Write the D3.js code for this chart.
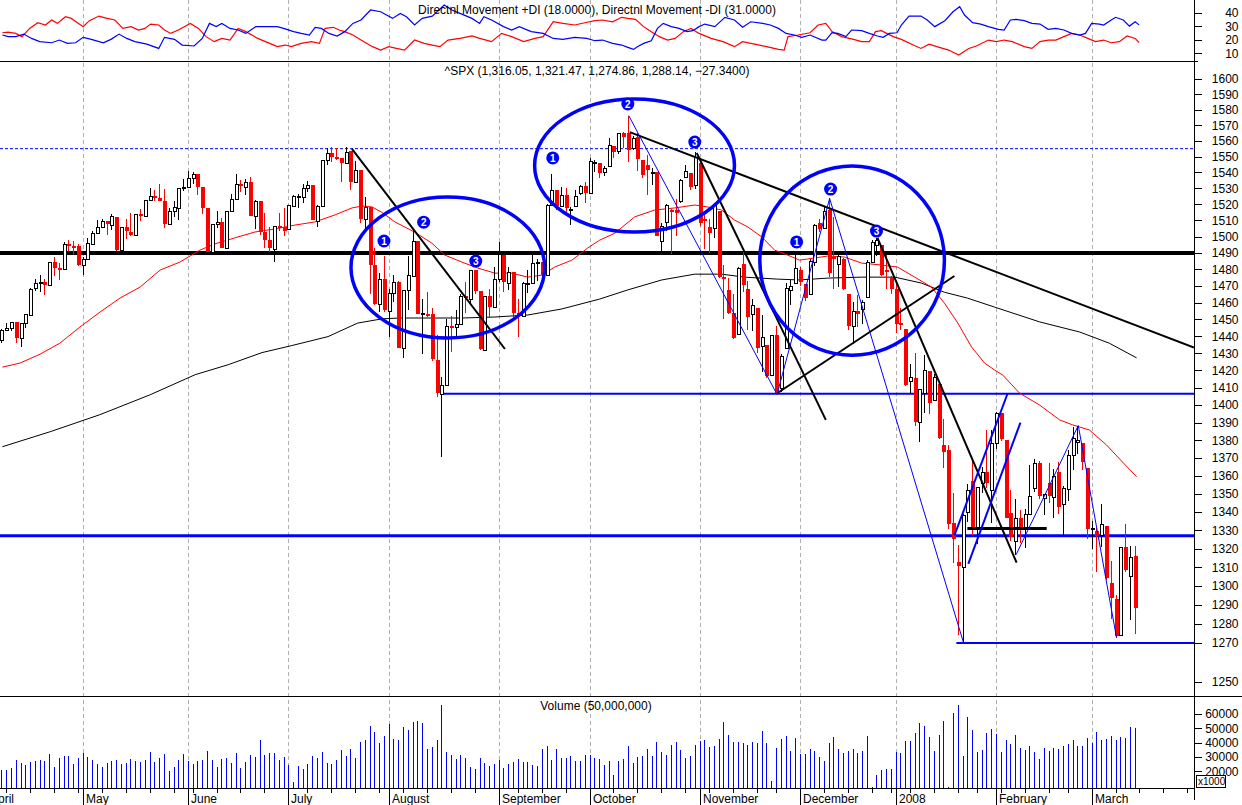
<!DOCTYPE html>
<html><head><meta charset="utf-8"><title>^SPX daily</title>
<script src="https://cdn.jsdelivr.net/npm/d3@7/dist/d3.min.js"></script>
<style>
html,body{margin:0;padding:0;background:#fff;}
svg{display:block;}
text{font-family:"Liberation Sans",Arial,Helvetica,sans-serif;font-size:12px;fill:#000;}
</style></head><body>
<svg id="chart" width="1242" height="805"></svg>
<script>
// ---- daily S&P 500 bars, 5 Apr 2007 .. 14 Mar 2008 (one entry per trading day) ----
const opens = [
1438,1443.8,1444.6,1448.2,1438.9,1447.8,1452.8,1468.5,1471.5,1472.5,1470.7,1484.3,1480.9,1480.4,1495.3,1494.2,1494.1,
1482.4,1486.1,1495.6,1502.4,1505.6,1509.4,1507.3,1512.3,1491.5,1505.8,1503.1,1500.8,1514,1512.7,1522.8,1525.1,1524.1,1522.1,1507.5,1515.6,1517.6,1530.2,
1530.6,1536.3,1539.1,1530.6,1517.4,1490.7,1507.6,1509.1,1492.7,1515.6,1523,1532.9,1531,1533.7,1512.5,1522.2,1502.6,1497.7,1492.3,1506.3,1505.7,
1504.7,1519.1,1524.9,1524.8,1530.4,1531.9,1509.9,1518.7,1547.7,1552.5,1549.5,1549.2,1546.1,1553.2,1534.1,1541.6,1511,1518,1482.4,1458.9,1473.9,
1455.2,1465.5,1472.2,1433,1467.6,1476.2,1497.2,1453.1,1453.4,1452.9,1426.2,1406.6,1411.3,1445.9,1445.6,1447,1464.1,1462.3,1479.4,1466.7,1432,1463.7,1457.6,
1473.96,1488.8,1472,1478.6,1453.5,1451.7,1471.1,1471.5,1483.9,1484.2,1476.6,1519.8,1528.7,1518.8,1525.8,1516.3,1518.6,1527.3,1531.2,
1527.3,1546.5,1545.8,1539.9,1543.8,1556.5,1553.2,1564.98,1564.7,1555.4,1562.3,1547.8,1544.4,1539.3,1540,1497.2,1509,1516.6,1516.2,1522.2,1536.9,1539.4,1532.2,
1545.8,1511.1,1505.6,1505.3,1515.5,1475.3,1467.6,1453.7,1441.4,1483.4,1468,1453.1,1456.7,1434.5,1434.7,1417.6,1440.7,1409.6,1432.95,1467.4,1471.8,
1479.6,1471.3,1465.2,1484.6,1508.6,1505.1,1516.7,1487.6,1483.3,1486.2,1465.1,1445.9,1454.7,1456.4,1463.2,1484.6,1495.1,1495.1,1479.8,1475.3,
1467.97,1447.6,1444,1414.1,1415.7,1390.3,1406.8,1419.9,1402.9,1411.9,1377.4,1374.6,1333.9,1312.9,1310.4,1340.1,1357.3,1330.7,1355.9,1362.2,1351.98,
1378.6,1395.4,1380.3,1339.5,1324,1336.9,1331.9,1339.1,1353.1,1367.3,1347.5,1355.9,1348.4,1362.2,1344.2,1352.8,1371.8,1378.95,1378.2,1364.1,
1330.5,1329.6,1327.7,1332.2,1301.5,1293.2,1274.4,1321.1,1305.3,1316.05];
const highs = [
1444,1448.1,1448.7,1448.7,1448,1453.1,1468.6,1474.4,1476.6,1474.2,1484.7,1487.3,1483.8,1496.6,1498,1497.3,1495.7,
1487.3,1499.1,1503.3,1510.3,1511,1509.4,1513.8,1512.3,1506.2,1510.9,1514.8,1514.2,1517.1,1522.8,1529.9,1529.2,1532.4,1529.3,1517.4,1521.8,1530.2,1535.6,
1540.6,1540.5,1539.1,1530.6,1517.4,1507.8,1515.5,1511.3,1515.7,1526.5,1538.7,1535.4,1535.9,1537.3,1522.9,1522.2,1514.3,1506.1,1506.8,1514.8,1517.5,
1519.4,1526,1526.6,1532.4,1534.3,1531.9,1519.3,1547.9,1555.1,1555.9,1555.3,1549.2,1555.9,1553.2,1547.2,1541.6,1524.3,1518,1492.9,1477.9,1488.3,
1468.4,1476.4,1473.2,1467.7,1488.3,1503.9,1497.2,1462,1466.3,1456.7,1440.8,1415.9,1450.3,1451.8,1455.3,1464.9,1472.1,1479.4,1479.4,1466.7,1463.8,1468.4,1481.5,
1496.4,1488.8,1481.5,1478.6,1462.3,1472.5,1479.5,1489.6,1486,1484.2,1519.9,1538.7,1529.1,1530.9,1530.2,1518.3,1529,1532,1533.7,
1549,1548,1545.8,1544,1561.9,1556.5,1565.3,1565.4,1576.1,1563,1564.7,1547.8,1550.7,1542.8,1540,1508.1,1520,1517.2,1523.2,1535.5,1544.7,1539.4,1552.8,
1545.8,1513.2,1510.8,1520.8,1515.5,1482.5,1474.8,1464.9,1481.4,1492.1,1472.7,1462.2,1456.7,1452.6,1434.7,1440.9,1446.1,1429.5,1471.6,1473.8,1488.9,
1481.2,1471.3,1486.1,1508,1510.6,1518.3,1523.6,1512,1489.4,1486.7,1465.1,1460.2,1464.4,1461.5,1485.4,1497.6,1498.9,1495.1,1488.5,1475.8,
1471.8,1456.8,1444,1423.9,1430.3,1409.2,1429.1,1419.9,1417.9,1411.9,1392,1377.2,1350.3,1322.1,1339.1,1355.2,1368.6,1354,1364.9,1385.9,1385.6,
1396,1395.4,1380.3,1352,1347.2,1341.2,1341.4,1366.1,1369.2,1368.2,1350,1367.3,1363.7,1367.9,1354.3,1374.4,1387.3,1388.3,1378.2,1364.1,
1335.1,1331,1344.2,1332.2,1313.2,1295,1320.7,1333.3,1321.7,1321.47];
const lows = [
1436,1443.3,1443,1436.2,1433.9,1444.6,1452.8,1467.2,1466.4,1464.5,1470.7,1476.2,1473.7,1480.4,1491.4,1488.7,1482.3,
1476.7,1486.1,1495.6,1501.8,1505.5,1500.7,1503.8,1491.4,1491.5,1498.3,1500.4,1500.8,1509.3,1512.7,1522.7,1522,1521.8,1505.2,1507.5,1512,1510.1,1528.3,
1530.6,1532.6,1525.6,1514.1,1490.4,1490.7,1505.3,1492.9,1492.7,1515.6,1523,1527.5,1525.7,1512.4,1504.8,1500.7,1492.7,1490.5,1484.2,1503.4,1500.2,
1504.7,1519.1,1517.7,1520.5,1527.5,1510,1506.1,1518.7,1544.9,1546.7,1547.5,1533.7,1546.1,1529.2,1534.1,1508.6,1503.7,1465.3,1458.8,1454.3,1454.3,
1439.6,1460.6,1432.8,1427.4,1455.8,1476.2,1453.1,1429.7,1451.5,1425.5,1404.4,1370.6,1411.3,1430.5,1439.8,1447,1453.9,1460,1465,1432,1432,1451.3,1457.6,
1472.2,1466.3,1467.4,1449.1,1439.3,1451.7,1465.8,1471.5,1473.2,1471.8,1476.6,1519.8,1516.4,1518.8,1515.1,1507.1,1518.6,1525.8,1521,
1527.3,1540.1,1536.3,1537.6,1543.8,1549,1551.8,1555.5,1546.7,1554.1,1540.8,1536.3,1526,1531.8,1500.3,1490.4,1503.6,1489.6,1500.5,1520.7,1536.9,1529.2,1529.4,
1506.7,1492.5,1489.9,1499.1,1475,1450.3,1453.4,1438.5,1441.4,1466.5,1443.5,1443,1430.4,1419.3,1415.6,1417.6,1406.1,1407.4,1432.95,1458.4,1470.9,
1470.1,1460.7,1465.2,1482.2,1502.7,1504.5,1475.6,1468.2,1469.2,1467.8,1443.8,1435.7,1445.3,1447.5,1463.2,1484.6,1488.2,1475.9,1468,1465.1,
1442.1,1443.7,1411.2,1406.7,1388.3,1378.7,1395.3,1394.8,1402.9,1380.6,1364.3,1330.7,1312.5,1274.3,1270.1,1334.3,1327.5,1322.3,1350.3,1353,1334.1,
1375.3,1379.7,1336.6,1324.3,1316.8,1323.2,1320.3,1339.1,1350.8,1347.3,1338.1,1345.1,1336.6,1339.1,1327,1346,1363.3,1372,1363.2,1325.4,
1320,1307.4,1320.7,1303.4,1282.4,1272.7,1274.4,1307.6,1282.1,1274.86];
const closes = [
1443.8,1444.6,1448.4,1438.9,1447.8,1452.9,1468.3,1471.5,1472.5,1470.7,1484.4,1480.9,1480.4,1495.4,1494.3,1494.1,1482.4,
1486.3,1495.9,1502.4,1505.6,1509.5,1507.7,1512.6,1491.5,1505.9,1503.2,1501.2,1514.1,1512.8,1522.8,1525.1,1524.1,1522.3,1507.5,1515.7,1518.1,1530.2,1530.6,
1536.3,1539.2,1531,1517.4,1490.7,1507.7,1509.1,1493,1515.7,1523,1532.9,1531.1,1533.7,1512.8,1522.2,1502.6,1497.7,1492.9,1506.3,1505.7,1503.4,
1519.4,1524.9,1525.4,1530.4,1531.9,1510.1,1518.8,1547.7,1552.5,1549.5,1549.4,1546.2,1553.1,1534.1,1541.6,1511,1518.1,1482.7,1459,1473.9,1455.3,
1465.8,1472.2,1433.1,1467.7,1476.7,1497.5,1453.1,1453.6,1452.9,1426.5,1406.7,1411.3,1445.9,1445.6,1447.1,1464.1,1462.5,1479.4,1466.8,1432.4,1463.8,1457.6,1474,
1489.4,1472.3,1478.6,1453.6,1451.7,1471.5,1471.6,1484,1484.3,1476.7,1519.8,1529,1518.8,1525.8,1517.7,1517.2,1525.4,1531.4,1526.8,
1547,1546.6,1539.6,1542.8,1557.6,1552.6,1565.2,1562.5,1554.4,1561.8,1548.7,1538.5,1541.2,1540.1,1500.6,1506.3,1519.6,1515.9,1514.4,1535.3,1541,1531,1549.4,
1508.4,1509.7,1502.2,1520.3,1475.6,1474.8,1453.7,1439.2,1481.1,1470.6,1451.2,1458.7,1433.3,1439.7,1416.8,1440.7,1407.2,1428.2,1469,1469.7,1481.1,
1472.4,1462.8,1485,1507.3,1504.7,1516,1477.7,1486.6,1488.4,1468,1445.9,1455,1453,1460.1,1484.5,1496.5,1497.7,1476.3,1478.5,1468.4,
1447.2,1447.2,1411.6,1416.2,1390.2,1409.1,1420.3,1401,1416.3,1381,1373.2,1333.3,1325.2,1310.5,1338.6,1352.1,1330.6,1354,1362.3,1355.8,1378.6,
1395.4,1380.8,1336.6,1326.5,1336.9,1331.3,1339.1,1348.9,1367.2,1348.9,1350,1348.8,1360,1342.5,1353.1,1371.8,1381.3,1380,1367.7,1330.6,
1331.3,1326.8,1333.7,1304.3,1293.4,1273.4,1320.7,1308.8,1315.48,1288.14];
// daily volume, thousands (axis units x1000)
const volumes = [
20900,20900,22500,27900,26000,24400,26700,27200,27900,27200,32100,23000,29300,30700,30700,25100,29300,
32800,30000,27900,25100,23000,25800,27200,27900,25100,25800,28600,27200,26500,27900,33500,26500,29300,32100,20200,23000,27900,32100,
27200,25100,27200,27900,34200,27900,23000,28600,29300,25800,32800,22300,26500,31400,30000,41900,31400,32800,32800,27900,30000,
24400,12500,23700,21600,25100,30700,29300,33500,25800,25100,27900,34900,30700,35600,29300,40500,41900,51700,47500,39800,44700,
53100,42600,41900,51000,48900,54500,55200,53800,35600,37000,41900,66300,33500,31400,28600,31400,29300,23000,21600,29300,25800,23700,25100,
27900,22300,25100,26500,28600,26500,26500,24400,23700,35600,37700,27900,35600,29300,29300,30700,27200,27200,31400,
31400,29300,28600,24400,27200,17400,27400,28400,37700,25800,30000,30700,35600,30700,40500,33500,31400,38400,40500,34900,29300,30700,38400,
41400,41900,37000,37700,42600,54500,45400,40500,40500,39800,38400,40500,39800,48200,39800,13500,36300,42600,44700,34200,43300,
32100,32100,35600,34200,30000,27200,39800,44000,35600,32800,34200,35600,32800,34200,44700,9300,17400,20900,21600,21600,
33500,32800,41200,41200,46800,53800,51700,44000,34200,45400,55200,9300,60800,66300,30700,58000,48900,33500,34900,46800,49600,
46100,33500,41900,39100,45400,36300,34900,37700,33500,28600,36300,34200,36300,35600,37700,39100,41900,37700,37700,43300,
40000,47500,41900,42600,44700,41900,44000,43300,51000,50000];

// Directional movement lines: [trading-day index, value]
const plusDI = [[0,25.2],[1.2,25.7],[2.8,24.7],[4.1,22.3],[5.7,28.4],[7.4,32.6],[9,30.9],[10.3,34.6],[11.5,32.1],[13.2,37],[14.4,35.8],[15.7,32.6],[16.9,29.7],[18.2,34.1],[20.2,37.5],[21.9,35.8],[23.5,34.6],[25.2,28.4],[26.9,29.7],[28.5,27.2],[29.8,28.4],[31,31.6],[32.7,30.9],[33.9,27.2],[35.2,24.7],[36.8,27.2],[39.3,32.1],[41,28.4],[42.6,22.3],[44.3,18.6],[45.9,21],[47.6,19.8],[49.3,28.4],[50.9,26],[53.4,21],[55.9,17.3],[57.5,14.9],[59.2,16.1],[60.4,14.9],[62.5,17.3],[64.6,18.6],[66.3,17.3],[67.5,28.4],[69.2,29.2],[70.4,27.2],[71.6,26],[73.3,23.5],[75,19.8],[77.4,14.9],[79.1,12.4],[80.8,14.9],[82.4,13.6],[84.1,12.4],[86.2,19.8],[88.2,17.3],[89.9,16.1],[91.5,14.9],[93.2,19.8],[95.7,21],[98.2,22.8],[99.8,21],[102.3,18.6],[104.4,24.7],[106.5,22.3],[109,18.6],[111.4,21],[113.1,22.3],[115.2,33.3],[117.2,32.1],[119.7,30.9],[121.8,32.6],[123.9,34.1],[125.5,34.6],[127.6,33.3],[129.5,36.6],[130.8,35.8],[132.4,35.1],[134.1,29.7],[135.7,26],[137.4,22.3],[139.1,19.8],[140.7,21],[142.4,26],[144,28.4],[145.7,24.7],[148.2,21],[150.7,18.6],[153.1,14.9],[154.8,18.6],[157.3,16.8],[159.8,14.9],[162.3,12.9],[163.5,12.4],[164.3,22.3],[166.4,23.5],[168.9,25.2],[170.6,30.9],[172.2,32.1],[173.5,26],[175.5,22.3],[178,20.3],[179.7,18.6],[181.3,18.6],[182.6,26],[183.8,26.7],[186.3,22.3],[188,20.3],[190.5,16.1],[192.1,13.6],[193.8,16.8],[195.4,14.9],[197.9,12.4],[200,8.7],[202.1,13.6],[203.7,15.4],[206.2,19.8],[207.9,18.6],[209.5,19.8],[211.2,18.6],[213.7,14.9],[215.3,13.6],[217,18.6],[218.7,19.8],[220.3,19.8],[222,22.3],[223.6,24.7],[225.3,23.5],[227,21],[228.6,18.6],[230.3,19.8],[231.9,17.8],[233.6,18.6],[235.2,22.8],[236.9,21],[237.7,18]];
const minusDI = [[0,23.5],[1.2,22.3],[2.8,22.3],[4.5,24.2],[6.1,21],[7.8,18.6],[10.3,17.8],[11.9,19.8],[13.6,17.3],[15.3,17.8],[16.9,21.8],[18.6,20.3],[21.1,17.8],[22.7,20.3],[24.4,24.2],[26,21],[27.7,18.6],[30.2,16.8],[32.7,13.6],[33.9,21.8],[36,20.3],[37.6,16.1],[40.1,15.4],[41.8,21],[43.3,32.1],[44.7,29.7],[45.9,32.1],[47.6,28.4],[49.3,27.2],[50.9,24.7],[53,29.7],[55.1,29.7],[57.5,29.7],[58.8,28.4],[60.9,26],[62.5,24.7],[64.2,23.5],[65.4,29.2],[66.7,28.4],[68.3,24.7],[70,22.8],[71.6,26],[73.3,32.1],[75,34.6],[77,42],[79.1,40.7],[81.6,35.8],[83.2,39.5],[84.5,37],[86.2,30.9],[87.8,35.8],[89.9,37.5],[92.4,45.7],[94,42],[95.7,39.5],[98.2,35.8],[99.8,32.1],[100.7,37],[102.3,34.6],[104.8,29.7],[106.5,27.2],[108.1,29.7],[110.6,26],[113.1,24.7],[115.2,21],[117.2,20.3],[119.7,21.8],[122.2,21],[123.9,19.3],[125.5,19.8],[127.6,17.3],[129.5,16.1],[130.8,14.4],[132,12.9],[132.8,14.9],[134.1,17.3],[135.7,19.3],[137,28.4],[138.2,32.1],[139.9,29.7],[141.5,28.4],[143.2,26],[144.4,26.7],[145.7,29.7],[146.9,31.6],[149,29.7],[151.1,36.6],[153.1,34.6],[154.8,29.2],[156.5,33.3],[159,32.1],[160.6,30.9],[162.3,28.4],[163.9,24.7],[165.6,23.5],[167.2,21.8],[168.9,23.5],[171.4,19.8],[172.2,19.8],[173.5,25.2],[174.7,24.7],[176.4,22.3],[177.6,27.2],[179.7,26.7],[181.3,24.7],[183,22.8],[184.2,21.8],[185.5,24.7],[187.1,25.2],[188,30.9],[189.6,37.5],[192.1,37.5],[193.4,34.6],[195,29.7],[197.1,34.1],[198.8,40.7],[200.2,44.4],[201.2,38.3],[202.9,32.6],[204.6,31.6],[206.2,29.7],[208.3,27.7],[209.5,27.2],[210.8,34.6],[212,35.1],[213.7,34.1],[215.3,32.1],[217,31.6],[218.7,27.7],[220.3,28.4],[222,27.2],[223.6,24.7],[225.3,23.5],[226.5,24.7],[227.8,32.1],[229.4,31.6],[230.3,30.9],[231.9,34.6],[232.8,36.6],[234.4,34.6],[235.7,30.1],[236.9,33.3],[237.7,31]];

// moving averages: [trading-day index, price]
const maShort = [[0,1421.9],[3.7,1424.3],[7.9,1429.5],[12,1435.9],[16.2,1445.4],[20.4,1454.3],[24.6,1462.7],[28.8,1469.3],[33,1479.6],[37.1,1484.4],[41.3,1491.7],[44.4,1495.5],[48.6,1499.2],[52.8,1502.8],[57,1504.7],[61.2,1507.1],[65.3,1509],[69.5,1513.3],[73.1,1517.7],[75.2,1518.9],[77.3,1518.3],[79.3,1515.1],[82.1,1509],[86.2,1502.8],[89.8,1496],[92.5,1488.7],[96.1,1484.4],[99.4,1480.8],[103,1477.7],[106.5,1477.7],[109.9,1475.3],[112.8,1476.5],[115.5,1481.4],[119.1,1485.6],[122.4,1493],[124.9,1497.8],[128.1,1502.1],[132.2,1512.1],[136.4,1516.4],[140.6,1517.7],[144.8,1519.5],[147.5,1518.3],[150.4,1516.4],[153.1,1510.2],[155.9,1505.9],[158.8,1499.8],[161.5,1491.7],[164.2,1488.7],[166.7,1485.6],[168.4,1486.3],[172.6,1488.1],[176.1,1487.5],[179.7,1483.8],[183.9,1482.6],[187.2,1481.4],[190.8,1475.3],[194.3,1469.3],[197,1459.7],[199.8,1447.8],[202.7,1433.6],[205.4,1424.3],[207.5,1420.2],[209.2,1417.3],[212.7,1406.9],[216.9,1400],[221.1,1391.5],[223.8,1388.7],[227.3,1385.8],[230.9,1377.3],[234.2,1367.8],[237.2,1359.5]];
const maLong = [[0,1376.3],[10,1384.8],[20.4,1394.5],[30.9,1405.9],[40.3,1417.5],[47.2,1423.3],[54.3,1430.4],[60.5,1434.5],[68.1,1439.8],[74.3,1447.8],[79.4,1450.3],[83.1,1450.8],[89,1450.8],[96.1,1450.8],[103,1451.4],[109.9,1452.6],[117,1456.2],[124.9,1462.1],[130.8,1467.6],[137.9,1473.6],[144.8,1477.1],[150.4,1477.1],[155.2,1475.3],[162.1,1474.1],[166.7,1473.6],[172.6,1474.7],[179.7,1475.3],[186.6,1475.3],[192.2,1471.7],[197,1466.2],[201.8,1462.7],[207.5,1457.3],[216.9,1448.5],[225.3,1442.5],[231.5,1435.9],[237.2,1427.3]];

// axis labels
const priceLabels = [1600,1590,1580,1570,1560,1550,1540,1530,1520,1510,1500,1490,1480,1470,1460,1450,1440,1430,1420,1410,1400,1390,1380,1370,1360,1350,1340,1330,1320,1310,1300,1290,1280,1270,1250];
const diLabels = [10,20,30,40];
const volLabels = [20000,30000,40000,50000,60000];
const holidays = ["2007-04-06","2007-05-28","2007-07-04","2007-09-03","2007-11-22","2007-12-25","2008-01-01","2008-01-21","2008-02-18"];

// drawn studies: price levels, trend lines, swing zigzags, circled patterns
const levelBlack = 1490;
const levelDashed = 1555;
const levelAugLow = [92, 1406.5];        // from day index, price
const levelBreak = 1327;
const levelJanLow = [199.5, 1270];
const trendLines = [
  [[73.1,1554.8],[105.1,1432.5]],
  [[131.2,1565.6],[249.2,1433.4]],
  [[145.2,1552.2],[172.2,1391.5]],
  [[162.1,1406.9],[199.1,1476.0]],
  [[183.0,1499.2],[212.1,1312.5]]
];
const shelfLine = [[201.8,1331],[218.4,1331]];
const swingA = [[131,1576.1],[162,1406.1],[173,1523.6],[201,1270.1]];
const swingB = [[212,1316.8],[225,1388.3],[233,1272.7]];
const channel = [
  [[199.1,1327.2],[210.2,1406.5]],
  [[202.0,1311.8],[212.9,1390.0]]
];
const circles = [[72.9,113.4,1524.5,1439.0],[111.3,153.1,1587.0,1502.8],[158.4,197.0,1544.0,1428.9]];
const marks = [[79.8,1497.3,"1"],[88.1,1508.9,"2"],[99.0,1485.0,"3"],[115.1,1549.1,"1"],[130.8,1583.7,"2"],[144.8,1559.2,"3"],[166.1,1496.7,"1"],[173.2,1529.5,"2"],[182.8,1503.4,"3"]];

// ---------------------------------------------------------------
const svg = d3.select("#chart");
const AX = 1194;
const DI_BOTTOM = 61, MAIN_TOP = 62, MAIN_BOTTOM = 697, VOL_BOTTOM = 788;
const RED = "#ff0000", BLUE = "#0000ff";

const x = d3.scaleLinear().domain([-0.5, 249.2]).range([0, AX]);
const yP = d3.scaleLog().domain([1600, 1270]).range([79, 643]);
const yD = d3.scaleLinear().domain([10, 40]).range([53.3, 12.7]);
const yV = d3.scaleLinear().domain([8800, 60000]).range([787.3, 714]);
const n = closes.length;
const px = i => Math.round(x(i));

// trading calendar starting Monday 2 Apr 2007 (index = k - 3)
const hol = new Set(holidays);
const fmt = d3.timeFormat("%Y-%m-%d");
const days = [];
for (let d = new Date(2007, 3, 2); days.length < 254; d = d3.timeDay.offset(d, 1)) {
  const wd = d.getDay();
  if (wd === 0 || wd === 6 || hol.has(fmt(d))) continue;
  days.push(new Date(d));
}
const cal = days.map((d, k) => ({d, i: k - 3}));
const monthStarts = cal.filter((c, k) => (k === 0 || c.d.getMonth() !== cal[k - 1].d.getMonth()) && x(c.i) < AX - 10);
const weekStarts = cal.filter((c, k) => (k === 0 || c.d.getDay() < cal[k - 1].d.getDay()) && x(c.i) < AX);

const defs = svg.append("defs");
defs.append("clipPath").attr("id", "clipDI").append("rect").attr("x", 0).attr("y", 0).attr("width", AX).attr("height", DI_BOTTOM);
defs.append("clipPath").attr("id", "clipMain").append("rect").attr("x", 0).attr("y", MAIN_TOP).attr("width", AX).attr("height", MAIN_BOTTOM - MAIN_TOP);

svg.append("rect").attr("width", 1242).attr("height", 805).attr("fill", "#fff");

// month grid
svg.append("g").selectAll("line").data(monthStarts.filter(m => m.i >= 0)).join("line")
  .attr("x1", m => px(m.i) - 0.5).attr("x2", m => px(m.i) - 0.5)
  .attr("y1", 0).attr("y2", VOL_BOTTOM)
  .attr("stroke", "#b0b0b0").attr("stroke-dasharray", "4,3").attr("stroke-width", 1);

// ---- directional movement panel ----
const gDI = svg.append("g").attr("clip-path", "url(#clipDI)");
const diLine = d3.line().x(d => x(d[0])).y(d => yD(d[1]));
gDI.append("path").datum(plusDI).attr("d", diLine).attr("fill", "none").attr("stroke", RED).attr("stroke-width", 1.2);
gDI.append("path").datum(minusDI).attr("d", diLine).attr("fill", "none").attr("stroke", BLUE).attr("stroke-width", 1.2);
const fmt4 = d3.format(".4f");
svg.append("text").attr("x", 597).attr("y", 14).attr("text-anchor", "middle")
  .text(`Directnl Movement +DI (${fmt4(plusDI[plusDI.length - 1][1])}), Directnl Movement -DI (${fmt4(minusDI[minusDI.length - 1][1])})`);

// ---- price panel ----
const gM = svg.append("g").attr("clip-path", "url(#clipMain)");
const pLine = d3.line().x(d => x(d[0])).y(d => yP(d[1]));

// levels under the bars
gM.append("line").attr("x1", 0).attr("x2", AX).attr("y1", yP(levelDashed)).attr("y2", yP(levelDashed))
  .attr("stroke", BLUE).attr("stroke-width", 1).attr("stroke-dasharray", "3,2");
gM.append("line").attr("x1", 0).attr("x2", AX).attr("y1", yP(levelBlack)).attr("y2", yP(levelBlack))
  .attr("stroke", "#000").attr("stroke-width", 4);
gM.append("line").attr("x1", x(levelAugLow[0])).attr("x2", AX).attr("y1", yP(levelAugLow[1])).attr("y2", yP(levelAugLow[1]))
  .attr("stroke", BLUE).attr("stroke-width", 2);
gM.append("line").attr("x1", 0).attr("x2", AX).attr("y1", yP(levelBreak)).attr("y2", yP(levelBreak))
  .attr("stroke", BLUE).attr("stroke-width", 3);
gM.append("line").attr("x1", x(levelJanLow[0])).attr("x2", AX).attr("y1", yP(levelJanLow[1])).attr("y2", yP(levelJanLow[1]))
  .attr("stroke", BLUE).attr("stroke-width", 2);

// moving averages
gM.append("path").datum(maLong).attr("d", pLine).attr("fill", "none").attr("stroke", "#000").attr("stroke-width", 1);
gM.append("path").datum(maShort).attr("d", pLine).attr("fill", "none").attr("stroke", RED).attr("stroke-width", 1);

// candles
const bars = d3.range(n).map(i => ({i, o: opens[i], h: highs[i], l: lows[i], c: closes[i], up: closes[i] >= opens[i]}));
const gC = gM.append("g").attr("shape-rendering", "crispEdges");
gC.selectAll("line").data(bars).join("line")
  .attr("x1", b => px(b.i) - 0.5).attr("x2", b => px(b.i) - 0.5)
  .attr("y1", b => yP(b.h)).attr("y2", b => yP(b.l))
  .attr("stroke", b => b.up ? "#000" : RED).attr("stroke-width", 1);
gC.selectAll("rect").data(bars).join("rect")
  .each(function(b) {
    const t = Math.round(yP(Math.max(b.o, b.c))), bt = Math.round(yP(Math.min(b.o, b.c)));
    const r = d3.select(this);
    if (b.up) {
      r.attr("x", px(b.i) - 1.5).attr("y", t + 0.5).attr("width", 3).attr("height", Math.max(bt - t, 1))
       .attr("fill", "#fff").attr("stroke", "#000").attr("stroke-width", 1);
    } else {
      r.attr("x", px(b.i) - 2).attr("y", t).attr("width", 4).attr("height", Math.max(bt - t, 2))
       .attr("fill", RED);
    }
  });

// studies over the bars
trendLines.forEach(seg => gM.append("path").datum(seg).attr("d", pLine).attr("fill", "none").attr("stroke", "#000").attr("stroke-width", 2));
gM.append("path").datum(shelfLine).attr("d", pLine).attr("stroke", "#000").attr("stroke-width", 3);
gM.append("path").datum(swingA).attr("d", pLine).attr("fill", "none").attr("stroke", BLUE).attr("stroke-width", 1);
gM.append("path").datum(swingB).attr("d", pLine).attr("fill", "none").attr("stroke", BLUE).attr("stroke-width", 1);
channel.forEach(seg => gM.append("path").datum(seg).attr("d", pLine).attr("fill", "none").attr("stroke", BLUE).attr("stroke-width", 2));
gM.selectAll("ellipse").data(circles).join("ellipse")
  .attr("cx", c => (x(c[0]) + x(c[1])) / 2).attr("cy", c => (yP(c[2]) + yP(c[3])) / 2)
  .attr("rx", c => (x(c[1]) - x(c[0])) / 2).attr("ry", c => (yP(c[3]) - yP(c[2])) / 2)
  .attr("fill", "none").attr("stroke", BLUE).attr("stroke-width", 3.5);
const gMk = gM.append("g").selectAll("g").data(marks).join("g")
  .attr("transform", m => `translate(${x(m[0])},${yP(m[1])})`);
gMk.append("circle").attr("r", 6.5).attr("fill", BLUE);
gMk.append("text").attr("text-anchor", "middle").attr("dy", "0.36em")
  .style("font-size", "10px").style("font-weight", "bold").style("fill", "#fff").text(m => m[2]);

const last = n - 1, f2 = d3.format(",.2f");
svg.append("text").attr("x", 597).attr("y", 75).attr("text-anchor", "middle")
  .text(`^SPX (${f2(opens[last])}, ${f2(highs[last])}, ${f2(lows[last])}, ${f2(closes[last])}, ${fmt4(closes[last] - closes[last - 1])})`);

// ---- volume panel ----
svg.append("g").attr("shape-rendering", "crispEdges").selectAll("line").data(d3.range(n)).join("line")
  .attr("x1", i => px(i) - 0.5).attr("x2", i => px(i) - 0.5)
  .attr("y1", i => yV(volumes[i])).attr("y2", VOL_BOTTOM)
  .attr("stroke", BLUE).attr("stroke-width", 1);
svg.append("text").attr("x", 596).attr("y", 710).attr("text-anchor", "middle")
  .text(`Volume (${d3.format(",")(volumes[last] * 1000)})`);

// ---- frame ----
const frame = svg.append("g").attr("shape-rendering", "crispEdges").attr("stroke", "#000").attr("stroke-width", 1);
frame.append("line").attr("x1", 0).attr("x2", AX + 4).attr("y1", DI_BOTTOM + 0.5).attr("y2", DI_BOTTOM + 0.5);
frame.append("line").attr("x1", 0).attr("x2", 1242).attr("y1", MAIN_BOTTOM - 0.5).attr("y2", MAIN_BOTTOM - 0.5);
frame.append("line").attr("x1", 0).attr("x2", AX).attr("y1", VOL_BOTTOM + 0.5).attr("y2", VOL_BOTTOM + 0.5);
frame.append("line").attr("x1", AX + 0.5).attr("x2", AX + 0.5).attr("y1", 0).attr("y2", 800);

// right-hand scales
function rightAxis(scale, majors, minors) {
  const g = svg.append("g").attr("transform", `translate(${AX + 0.5},0)`);
  g.call(d3.axisRight(scale).tickValues(minors).tickSize(3).tickFormat(""));
  g.call(d3.axisRight(scale).tickValues(majors).tickSize(7).tickFormat(d => d));
  g.selectAll(".domain").remove();
  g.selectAll("text").attr("x", 1238 - AX).attr("text-anchor", "end").style("font-size", "12px")
    .attr("font-family", null);
  g.selectAll("line").attr("stroke", "#000").attr("shape-rendering", "crispEdges");
  return g;
}
rightAxis(yD, diLabels, d3.range(5, 50, 5));
rightAxis(yP, priceLabels, d3.range(1246, 1606, 2));
rightAxis(yV, volLabels, d3.range(12000, 66000, 2000));
// multiplier box
const mb = svg.append("g").attr("transform", "translate(1196,775)");
mb.append("rect").attr("width", 29).attr("height", 12).attr("fill", "#fff").attr("stroke", "#000").attr("shape-rendering", "crispEdges");
mb.append("text").attr("x", 2).attr("y", 10).style("font-size", "10px").text("x1000");

// time axis
const gT = svg.append("g").attr("shape-rendering", "crispEdges");
gT.selectAll("line.w").data(weekStarts).join("line").attr("class", "w")
  .attr("x1", w => px(w.i) - 0.5).attr("x2", w => px(w.i) - 0.5).attr("y1", VOL_BOTTOM).attr("y2", VOL_BOTTOM + 5).attr("stroke", "#000");
gT.selectAll("line.m").data(monthStarts).join("line").attr("class", "m")
  .attr("x1", m => px(m.i) - 0.5).attr("x2", m => px(m.i) - 0.5).attr("y1", VOL_BOTTOM).attr("y2", 805).attr("stroke", "#000");
const monthName = d3.timeFormat("%B");
gT.selectAll("text").data(monthStarts).join("text")
  .attr("x", m => px(m.i) + 2).attr("y", 803)
  .text(m => m.d.getMonth() === 0 ? m.d.getFullYear() : monthName(m.d));
</script>
</body></html>
